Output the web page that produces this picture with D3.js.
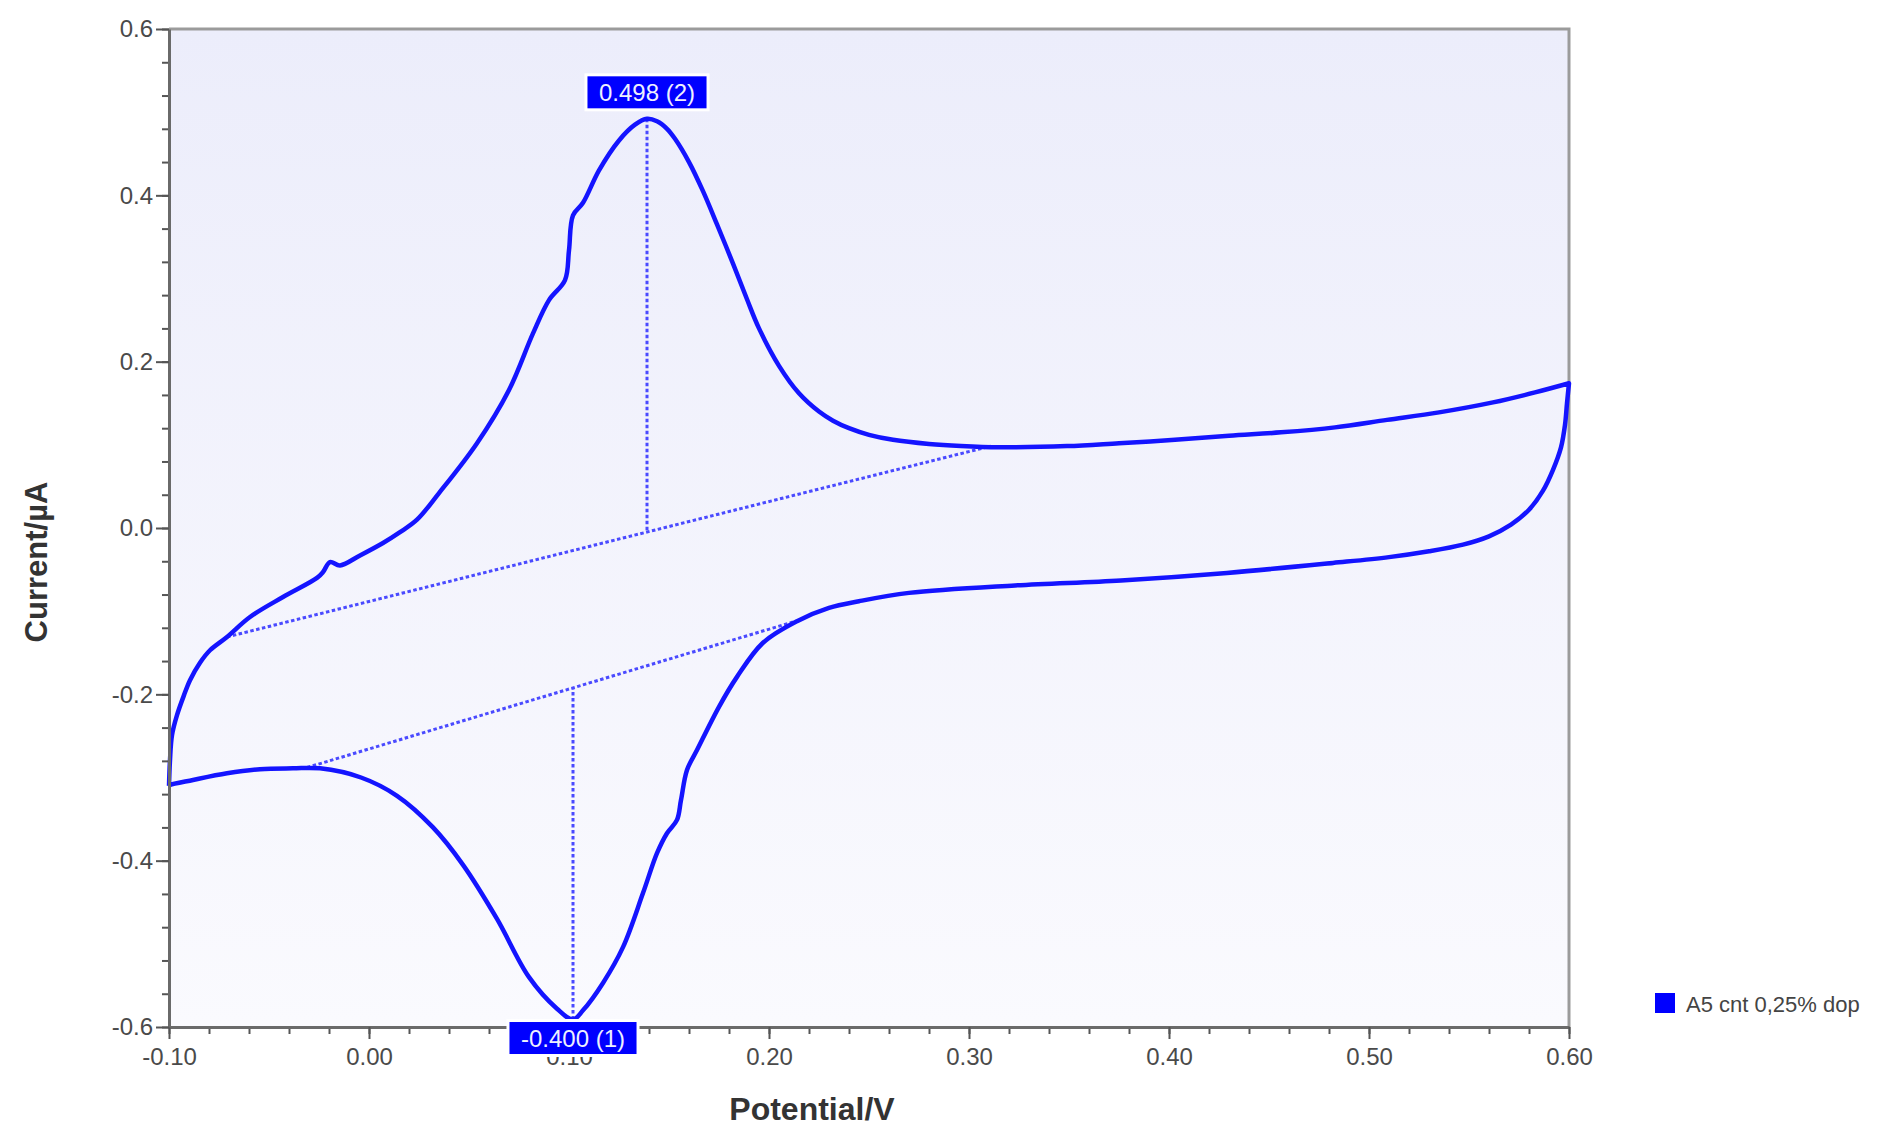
<!DOCTYPE html>
<html>
<head>
<meta charset="utf-8">
<script src="https://cdn.jsdelivr.net/npm/d3@7"></script>
<style>
  body { margin: 0; background: #fff; }
  svg { display: block; font-family: "Liberation Sans", Arial, sans-serif; }
</style>
</head>
<body>
<svg id="cv-chart"></svg>
<script>
// Cyclic voltammogram - forward (anodic) sweep, potential in V, current in uA
const anodicE = [-0.100, -0.0995, -0.0985, -0.096, -0.0925, -0.0895, -0.0845, -0.0795, -0.071, -0.0595,
  -0.043, -0.026, -0.023, -0.0195, -0.0145, -0.0045, 0.007, 0.0155, 0.024, 0.035,
  0.054, 0.070, 0.082, 0.090, 0.098, 0.100, 0.102, 0.107, 0.115, 0.125,
  0.133, 0.139, 0.144, 0.149, 0.153, 0.160, 0.167, 0.174, 0.182, 0.189,
  0.195, 0.205, 0.215, 0.225, 0.232, 0.240, 0.250, 0.262, 0.280, 0.296,
  0.315, 0.349, 0.375, 0.403, 0.430, 0.456, 0.483, 0.509, 0.535, 0.562,
  0.583, 0.600];
const anodicI = [-0.310, -0.279, -0.249, -0.225, -0.201, -0.183, -0.162, -0.147, -0.131, -0.107,
  -0.083, -0.060, -0.053, -0.041, -0.045, -0.033, -0.018, -0.005, 0.010, 0.042,
  0.102, 0.166, 0.234, 0.274, 0.298, 0.334, 0.376, 0.391, 0.430, 0.466,
  0.485, 0.492, 0.489, 0.480, 0.468, 0.440, 0.405, 0.365, 0.318, 0.275,
  0.240, 0.195, 0.162, 0.140, 0.129, 0.120, 0.112, 0.106, 0.101, 0.0985,
  0.097, 0.0985, 0.102, 0.106, 0.111, 0.115, 0.121, 0.130, 0.139, 0.151,
  0.163, 0.174];

// Reverse (cathodic) sweep, from 0.60 V back to -0.10 V
const cathodicE = [0.600, 0.599, 0.598, 0.596, 0.592, 0.587, 0.580, 0.571, 0.560, 0.547,
  0.530, 0.510, 0.482, 0.429, 0.376, 0.323, 0.270, 0.245, 0.230, 0.214,
  0.197, 0.184, 0.175, 0.164, 0.159, 0.156, 0.154, 0.149, 0.144, 0.137,
  0.127, 0.117, 0.107, 0.102, 0.094, 0.080, 0.064, 0.047, 0.032, 0.014,
  -0.004, -0.0245, -0.038, -0.0545, -0.071, -0.088, -0.0995, -0.100];
const cathodicI = [0.174, 0.150, 0.124, 0.097, 0.070, 0.045, 0.022, 0.004, -0.010, -0.020,
  -0.028, -0.035, -0.042, -0.054, -0.063, -0.069, -0.078, -0.088, -0.096, -0.112,
  -0.138, -0.179, -0.215, -0.267, -0.291, -0.327, -0.351, -0.367, -0.391, -0.439,
  -0.504, -0.547, -0.580, -0.591, -0.578, -0.540, -0.470, -0.405, -0.360, -0.322,
  -0.300, -0.289, -0.289, -0.290, -0.295, -0.303, -0.309, -0.310];

// Peak baselines (end points) and peak markers
const upperBaseE = [-0.071, 0.311];
const upperBaseI = [-0.131, 0.0985];
const lowerBaseE = [-0.031, 0.212];
const lowerBaseI = [-0.288, -0.113];
const peakE = [0.139, 0.102];
const peakI = [0.492, -0.591];
const peakLabels = ['0.498 (2)', '-0.400 (1)'];

// Axis ticks
const xTicks = [-0.1, 0, 0.1, 0.2, 0.3, 0.4, 0.5, 0.6];
const xTickLabels = ['-0.10', '0.00', '0.10', '0.20', '0.30', '0.40', '0.50', '0.60'];
const yTicks = [-0.6, -0.4, -0.2, 0, 0.2, 0.4, 0.6];
const yTickLabels = ['-0.6', '-0.4', '-0.2', '0.0', '0.2', '0.4', '0.6'];
const seriesName = 'A5 cnt 0,25% dop';

const width = 1890;
const height = 1143;
const margin = { top: 29, right: 321, bottom: 116, left: 169 };
const chartWidth = width - margin.left - margin.right;
const chartHeight = height - margin.top - margin.bottom;

const xScale = d3.scaleLinear().domain([-0.1, 0.6]).range([0, chartWidth]);
const yScale = d3.scaleLinear().domain([-0.6, 0.6]).range([chartHeight, 0]);

const svg = d3.select('#cv-chart')
  .attr('width', width)
  .attr('height', height);

svg.append('rect')
  .attr('width', width)
  .attr('height', height)
  .style('fill', '#fff');

// Plot background gradient
const grad = svg.append('defs').append('linearGradient')
  .attr('id', 'plot-bg')
  .attr('x1', 0).attr('y1', 0).attr('x2', 0).attr('y2', 1);
grad.append('stop').attr('offset', '0%').attr('stop-color', '#ecedfb');
grad.append('stop').attr('offset', '100%').attr('stop-color', '#fafafe');

const g = svg.append('g')
  .attr('transform', `translate(${margin.left},${margin.top})`);

g.append('rect')
  .attr('width', chartWidth)
  .attr('height', chartHeight)
  .style('fill', 'url(#plot-bg)');

// Top and right frame
g.append('path')
  .attr('d', `M0,0H${chartWidth}V${chartHeight}`)
  .style('fill', 'none')
  .style('stroke', '#9b9b9b')
  .style('stroke-width', 3);

// Dotted baselines
const dotted = (sel) => sel
  .style('fill', 'none')
  .style('stroke', '#4a4aff')
  .style('stroke-width', 3)
  .style('stroke-dasharray', '3.5,2.5');

const baseLine = d3.line()
  .x(d => xScale(d[0]))
  .y(d => yScale(d[1]));

g.append('path')
  .datum(upperBaseE.map((e, i) => [e, upperBaseI[i]]))
  .attr('d', baseLine)
  .call(dotted);

g.append('path')
  .datum(lowerBaseE.map((e, i) => [e, lowerBaseI[i]]))
  .attr('d', baseLine)
  .call(dotted);

// Vertical peak markers to the baseline
const upperBaseAt = d3.scaleLinear().domain(upperBaseE).range(upperBaseI);
const lowerBaseAt = d3.scaleLinear().domain(lowerBaseE).range(lowerBaseI);
const baseAt = [upperBaseAt, lowerBaseAt];

peakE.forEach((e, i) => {
  g.append('line')
    .attr('x1', xScale(e))
    .attr('x2', xScale(e))
    .attr('y1', yScale(peakI[i]))
    .attr('y2', yScale(baseAt[i](e)))
    .call(dotted);
});

// CV curve
const cvData = anodicE.map((e, i) => [e, anodicI[i]])
  .concat(cathodicE.map((e, i) => [e, cathodicI[i]]));

g.append('path')
  .datum(cvData)
  .attr('d', d3.line()
    .x(d => xScale(d[0]))
    .y(d => yScale(d[1]))
    .curve(d3.curveCatmullRom.alpha(0.5)))
  .style('fill', 'none')
  .style('stroke', '#1414ff')
  .style('stroke-width', 4.5)
  .style('stroke-linejoin', 'round');

// Minor ticks
const xMinor = d3.range(-0.1, 0.6001, 0.02);
const yMinor = d3.range(-0.6, 0.6001, 0.04);

g.append('g')
  .attr('transform', `translate(0,${chartHeight})`)
  .call(d3.axisBottom(xScale).tickValues(xMinor).tickSize(7).tickFormat(''))
  .call(a => a.select('.domain').remove())
  .selectAll('line').style('stroke', '#555').style('stroke-width', 2);

g.append('g')
  .call(d3.axisLeft(yScale).tickValues(yMinor).tickSize(7).tickFormat(''))
  .call(a => a.select('.domain').remove())
  .selectAll('line').style('stroke', '#555').style('stroke-width', 2);

// Major axes
const xAxis = g.append('g')
  .attr('transform', `translate(0,${chartHeight})`)
  .call(d3.axisBottom(xScale)
    .tickValues(xTicks)
    .tickSize(12)
    .tickSizeOuter(0)
    .tickPadding(9)
    .tickFormat((d, i) => xTickLabels[i]));

const yAxis = g.append('g')
  .call(d3.axisLeft(yScale)
    .tickValues(yTicks)
    .tickSize(13)
    .tickSizeOuter(0)
    .tickPadding(3)
    .tickFormat((d, i) => yTickLabels[i]));

[xAxis, yAxis].forEach(ax => {
  ax.select('.domain').style('stroke', '#6a6a6a').style('stroke-width', 3);
  ax.selectAll('.tick line').style('stroke', '#555').style('stroke-width', 2);
  ax.selectAll('.tick text')
    .style('font-size', '24px')
    .style('font-family', '"Liberation Sans", Arial, sans-serif')
    .style('fill', '#4a4a4a');
});

// Axis titles
svg.append('text')
  .attr('x', 812)
  .attr('y', 1120)
  .attr('text-anchor', 'middle')
  .style('font-size', '32px')
  .style('font-weight', 'bold')
  .style('fill', '#333')
  .text('Potential/V');

svg.append('text')
  .attr('transform', 'translate(47,562) rotate(-90)')
  .attr('text-anchor', 'middle')
  .style('font-size', '31px')
  .style('font-weight', 'bold')
  .style('fill', '#333')
  .text('Current/µA');

// Peak value labels
peakE.forEach((e, i) => {
  const label = g.append('g');
  const txt = label.append('text')
    .attr('text-anchor', 'middle')
    .style('font-size', '24px')
    .style('fill', '#eef0ff')
    .text(peakLabels[i]);
  const bb = txt.node().getBBox();
  const boxW = bb.width + 26;
  const boxH = 35;
  const cx = xScale(e);
  const top = i === 0 ? yScale(peakI[i]) - 9 - boxH : yScale(peakI[i]) + 1;
  label.insert('rect', 'text')
    .attr('x', cx - boxW / 2)
    .attr('y', top)
    .attr('width', boxW)
    .attr('height', boxH)
    .style('fill', '#0000ff')
    .style('stroke', '#fff')
    .style('stroke-width', 3);
  txt.attr('x', cx).attr('y', top + boxH / 2 + 8.5);
});

// Legend
svg.append('rect')
  .attr('x', 1655)
  .attr('y', 993)
  .attr('width', 20)
  .attr('height', 20)
  .style('fill', '#0000ff');

svg.append('text')
  .attr('x', 1686)
  .attr('y', 1012)
  .style('font-size', '22px')
  .style('fill', '#444')
  .text(seriesName);
</script>
</body>
</html>
